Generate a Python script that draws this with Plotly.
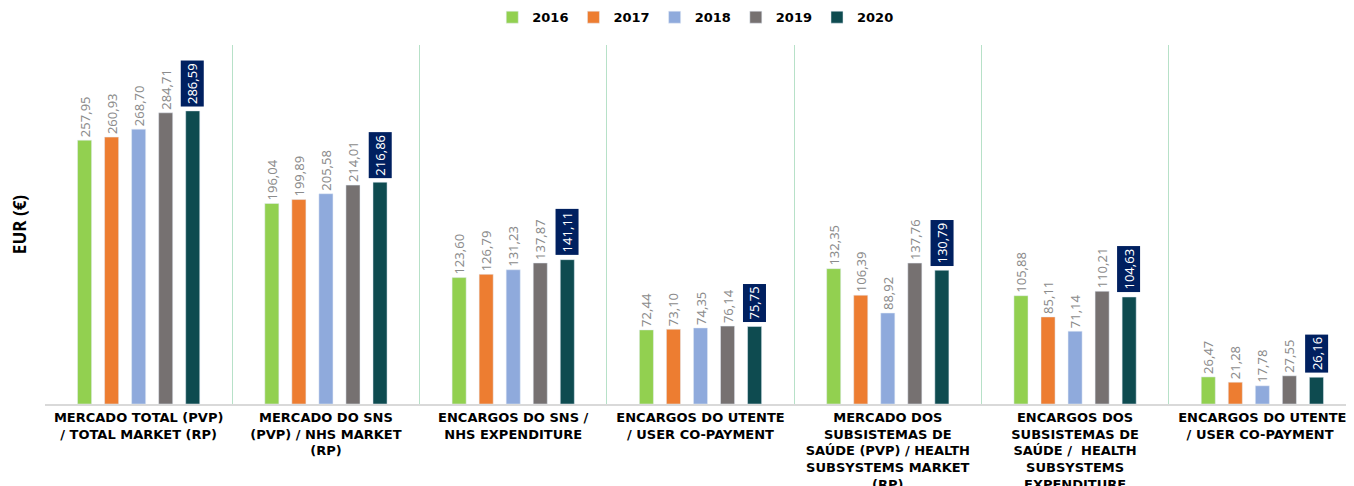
import plotly.graph_objects as go

categories = [
    "MERCADO TOTAL (PVP)<br>/ TOTAL MARKET (RP)",
    "MERCADO DO SNS<br>(PVP) / NHS MARKET<br>(RP)",
    "ENCARGOS DO SNS /<br>NHS EXPENDITURE",
    "ENCARGOS DO UTENTE<br>/ USER CO-PAYMENT",
    "MERCADO DOS<br>SUBSISTEMAS DE<br>SAÚDE (PVP) / HEALTH<br>SUBSYSTEMS MARKET<br>(RP)",
    "ENCARGOS DOS<br>SUBSISTEMAS DE<br>SAÚDE /  HEALTH<br>SUBSYSTEMS<br>EXPENDITURE",
    "ENCARGOS DO UTENTE<br>/ USER CO-PAYMENT ",  # trailing space keeps it a separate category
]

years = ["2016", "2017", "2018", "2019", "2020"]
v2016 = [257.95, 196.04, 123.60, 72.44, 132.35, 105.88, 26.47]
v2017 = [260.93, 199.89, 126.79, 73.10, 106.39, 85.11, 21.28]
v2018 = [268.70, 205.58, 131.23, 74.35, 88.92, 71.14, 17.78]
v2019 = [284.71, 214.01, 137.87, 76.14, 137.76, 110.21, 27.55]
v2020 = [286.59, 216.86, 141.11, 75.75, 130.79, 104.63, 26.16]

series = [v2016, v2017, v2018, v2019, v2020]
colors = ["#92d050", "#ed7d31", "#8faadc", "#767171", "#0e4b50"]

fig = go.Figure()
for year, vals, color in zip(years, series, colors):
    last = year == "2020"
    fig.add_trace(
        go.Bar(
            x=categories,
            y=vals,
            name=year,
            marker_color=color,
            texttemplate="" if last else "%{y:.2f}",
            textposition="outside",
            textangle=-90,
            constraintext="none",
            textfont=dict(family="Noto Sans", size=13, color="#8c8c8c"),
            cliponaxis=False,
        )
    )

# 2020 labels sit in a dark box above the fifth bar of each group
for cat, val in zip(categories, v2020):
    fig.add_annotation(
        x=cat, y=val, text=f"{val:.2f}".replace(".", ","),
        textangle=-90, showarrow=False,
        xshift=54, yshift=4, yanchor="bottom",
        bgcolor="#002060", borderpad=2,
        font=dict(family="Noto Sans", size=13, color="white"),
    )

# the page body adds an 8px offset, margins are set with that in mind
fig.update_layout(
    width=1354, height=486,
    margin=dict(l=37, r=6, t=37, b=90, autoexpand=False),
    plot_bgcolor="white", paper_bgcolor="white",
    barmode="group", bargap=0.278, bargroupgap=0.48,
    separators=",.",
    showlegend=True,
    legend=dict(
        orientation="h", x=0.496, xanchor="center",
        yref="container", y=0.981, yanchor="middle",
        font=dict(family="DejaVu Sans", size=13, color="#000000", weight="bold"),
        itemwidth=30, traceorder="normal",
    ),
    xaxis=dict(
        tickson="boundaries", showgrid=True, gridcolor="#b7e1c8", gridwidth=1,
        showline=True, linecolor="#d9d9d9", linewidth=2, automargin=False,
        ticks="", tickfont=dict(family="DejaVu Sans", size=13, color="#000000", weight="bold"),
        tickangle=0,
    ),
    yaxis=dict(
        range=[0, 351], showgrid=False, showticklabels=False, zeroline=False,
        automargin=False,
        title=dict(text="<b>EUR (€)</b>", font=dict(family="Open Sans", size=17, color="#000000"), standoff=14),
    ),
)

fig.write_html("out.html")
